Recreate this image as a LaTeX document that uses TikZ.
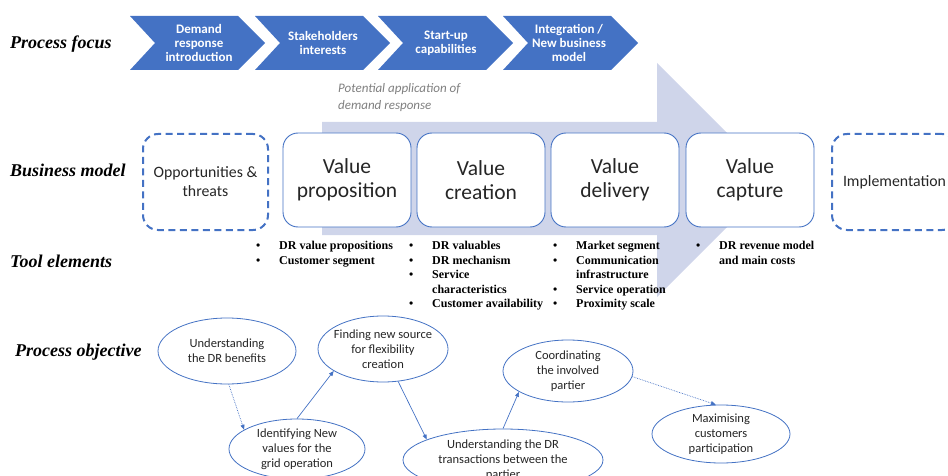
\documentclass[tikz,border=0pt]{standalone}
\usepackage{fontspec}
\setmainfont{Liberation Serif}
\newfontfamily\calibfont{Carlito}
\usetikzlibrary{shapes.geometric,arrows.meta}
\definecolor{cblue}{HTML}{4472C4}
\definecolor{lav}{HTML}{CFD5EA}
\definecolor{dtext}{HTML}{262626}
\definecolor{gtext}{HTML}{7F7F7F}
\newcommand\tbul{\makebox[23pt][l]{\textbullet}}
\newcommand\tind{\hspace*{23pt}}
\begin{document}
\begin{tikzpicture}[x=1pt,y=-1pt,
 rowlabel/.style={anchor=west, inner sep=0, font=\fontsize{18}{20}\selectfont\bfseries\itshape},
 chevtext/.style={text=white, align=center, font=\calibfont\bfseries\fontsize{13}{14.2}\selectfont, inner sep=0},
 vbox/.style={draw=cblue, line width=0.9pt, fill=white, rounded corners=15pt, minimum width=128pt, minimum height=94pt, align=center, text=dtext, font=\calibfont\fontsize{21.5}{24.5}\selectfont},
 dbox/.style={draw=cblue, line width=2pt, dash pattern=on 7pt off 4.5pt, rounded corners=15pt, minimum width=125pt, minimum height=96pt, align=center, text=dtext, font=\calibfont\fontsize{15.8}{19}\selectfont},
 tool/.style={anchor=north west, inner sep=0, align=left, font=\fontsize{12}{14.5}\selectfont\bfseries},
 obj/.style={ellipse, draw=cblue, line width=0.8pt, fill=white, inner sep=0},
 objtext/.style={inner sep=0, align=center, text=dtext, font=\calibfont\fontsize{12.5}{14.8}\selectfont},
 flow/.style={draw=cblue, line width=0.7pt, -{Triangle[length=5pt,width=4pt]}},
]
\useasboundingbox (0,0) rectangle (948,476);
\clip (0,0) rectangle (948,476);
% big background arrow
\fill[lav] (322,122) -- (657,122) -- (657,63) -- (774,180) -- (657,297) -- (657,235) -- (322,235) -- cycle;
% chevrons
\foreach \xl in {130,255,378,503} {
  \fill[cblue] (\xl,16) -- ++(108,0) -- ++(27,27) -- ++(-27,27) -- ++(-108,0) -- ++(25,-27) -- cycle;
}
\node[chevtext] (c1) at (199,43) {Demand\\response\\introduction};
\node[chevtext] (c2) at (323,43) {Stakeholders\\interests};
\node[chevtext] (c3) at (446,43) {Start-up\\capabilities};
\node[chevtext] (c4) at (569,43) {Integration /\\New business\\model};
% row labels
\node[rowlabel] (lfocus) at (10,44) {Process focus};
\node[rowlabel] (lbm) at (10,170) {Business model};
\node[rowlabel] (ltool) at (10,261) {Tool elements};
\node[rowlabel] (lobj) at (15,352) {Process objective};
% potential application
\node[anchor=north west, inner sep=0, align=left, text=gtext, font=\calibfont\itshape\fontsize{13}{17}\selectfont] (pot) at (338,83) {Potential application of\\demand response};
% business model boxes
\node[dbox] (opp) at (205.5,182) {Opportunities \&\\threats};
\node[vbox] (vp) at (347,180) {Value\\proposition};
\node[vbox] (vc) at (481,180) {Value\\creation};
\node[vbox] (vd) at (615,180) {Value\\delivery};
\node[vbox] (vcap) at (750,180) {Value\\capture};
\node[dbox] (impl) at (894.5,182) {Implementation};
% tool elements
\node[tool] (t1) at (256,241) {\tbul DR value propositions\\\tbul Customer segment};
\node[tool] (t2) at (409,241) {\tbul DR valuables\\\tbul DR mechanism\\\tbul Service\\\tind characteristics\\\tbul Customer availability};
\node[tool] (t3) at (553,241) {\tbul Market segment\\\tbul Communication\\\tind infrastructure\\\tbul Service operation\\\tbul Proximity scale};
\node[tool] (t4) at (696,241) {\tbul DR revenue model\\\tind and main costs};
% process objective ellipses
\node[obj, minimum width=138pt, minimum height=66pt] (o1) at (227,351) {};
\node[objtext] (o1t) at (o1) {Understanding\\the DR benefits};
\node[obj, minimum width=130pt, minimum height=66pt] (o2) at (383,349) {};
\node[objtext] (o2t) at (o2) {Finding new source\\for flexibility\\creation};
\node[obj, minimum width=136pt, minimum height=60pt] (o3) at (297,449) {};
\node[objtext] (o3t) at (o3) {Identifying New\\values for the\\grid operation};
\node[obj, minimum width=200pt, minimum height=62pt] (o4) at (503,460) {};
\node[objtext] (o4t) at (o4) {Understanding the DR\\transactions between the\\partier};
\node[obj, minimum width=130pt, minimum height=62pt] (o5) at (568,371) {};
\node[objtext] (o5t) at (o5) {Coordinating\\the involved\\partier};
\node[obj, minimum width=138pt, minimum height=58pt] (o6) at (721,434) {};
\node[objtext] (o6t) at (o6) {Maximising\\customers\\participation};
% flow arrows
\draw[flow, densely dotted] (o1.-87) -- (o3.160);
\draw[flow] (o3.north) -- (o2.204);
\draw[flow] (o2.-65) -- (o4.165);
\draw[flow] (o4.north) -- (o5.203);
\draw[flow, densely dotted] (o5.-5) -- (o6.100);
\end{tikzpicture}
\end{document}
